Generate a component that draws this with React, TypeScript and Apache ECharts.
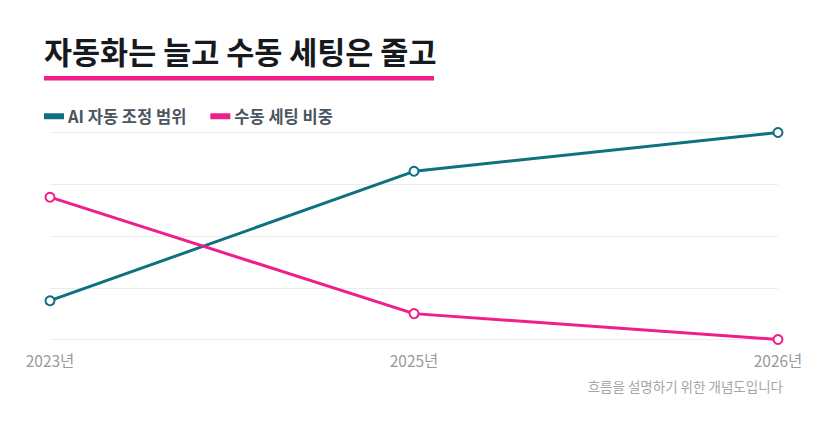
import { useEffect, useRef } from 'react';
import * as echarts from 'echarts';

// chart values (y axis is 0–80, four bands, labels hidden)
const years = ['2023년', '2025년', '2026년'];
const autoRange = [15, 65, 80];
const manualShare = [55, 10, 0];
const seriesNames = ['AI 자동 조정 범위', '수동 세팅 비중'];

const TITLE = '자동화는 늘고 수동 세팅은 줄고';
const NOTE = '흐름을 설명하기 위한 개념도입니다';

const TEAL = '#0f7180';
const PINK = '#ee1f8b';
const FONT = '"Noto Sans CJK KR", "Noto Sans", sans-serif';

export default function App() {
  const chartRef = useRef<HTMLDivElement>(null);

  useEffect(() => {
    document.body.style.margin = '0';
    if (!chartRef.current) return;
    const chart = echarts.init(chartRef.current, null, { renderer: 'svg' });

    const lineSeries = (name: string, data: number[], color: string) => ({
      name,
      type: 'line',
      data,
      symbol: 'emptyCircle',
      symbolSize: 9,
      color,
      lineStyle: { width: 3, color },
      itemStyle: { color, borderWidth: 2.5, borderColor: color },
    });

    chart.setOption({
      animation: false,
      backgroundColor: '#ffffff',
      textStyle: { fontFamily: FONT },
      graphic: [
        {
          type: 'text',
          left: 44,
          top: 36,
          style: {
            text: TITLE,
            fontSize: 30.5,
            fontWeight: 700,
            fontFamily: FONT,
            fill: '#16191d',
          },
        },
        {
          type: 'rect',
          shape: { x: 44, y: 76, width: 390, height: 4.5 },
          style: { fill: PINK },
        },
        {
          type: 'text',
          right: 45,
          top: 379,
          style: {
            text: NOTE,
            fontSize: 13.5,
            fontFamily: FONT,
            fill: '#a6a6a6',
          },
        },
      ],
      legend: {
        left: 44,
        top: 108,
        padding: 0,
        icon: 'rect',
        itemWidth: 18,
        itemHeight: 4,
        itemGap: 24,
        data: seriesNames,
        textStyle: {
          fontSize: 16.5,
          fontWeight: 600,
          color: '#4a5562',
          fontFamily: FONT,
        },
      },
      grid: { left: 50, right: 50, top: 132.5, bottom: 100.5 },
      xAxis: {
        type: 'category',
        data: years,
        boundaryGap: false,
        axisLine: { show: false },
        axisTick: { show: false },
        axisLabel: {
          color: '#9a9a9a',
          fontSize: 15.5,
          margin: 13,
          fontFamily: FONT,
        },
      },
      yAxis: {
        type: 'value',
        min: 0,
        max: 80,
        interval: 20,
        axisLabel: { show: false },
        axisLine: { show: false },
        axisTick: { show: false },
        splitLine: { lineStyle: { color: '#ececec', width: 1 } },
      },
      series: [
        lineSeries(seriesNames[0], autoRange, TEAL),
        lineSeries(seriesNames[1], manualShare, PINK),
      ],
    });

    return () => chart.dispose();
  }, []);

  return <div ref={chartRef} style={{ width: '828px', height: '440px' }} />;
}
